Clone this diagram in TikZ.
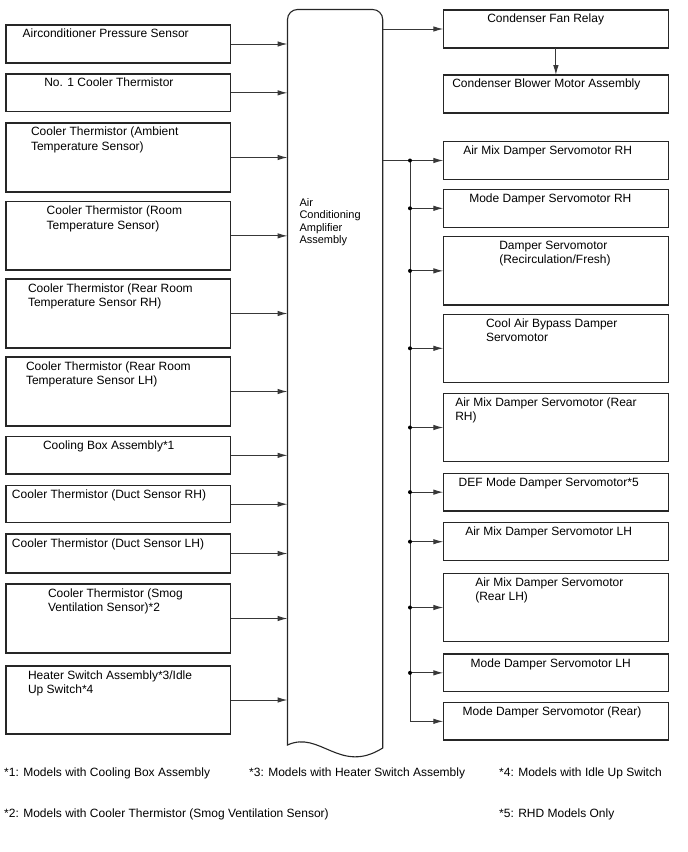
\documentclass[tikz,border=0pt]{standalone}
\usepackage{fontspec}
\setmainfont{Liberation Sans}
\usetikzlibrary{arrows.meta,calc}
\tikzset{
  box/.style={draw=black!85, line width=1.1pt, inner sep=0pt, outer sep=0pt, anchor=north west},
  txt/.style={inner sep=0pt, outer sep=0pt, anchor=north west, align=left, font=\fontsize{12}{14.5}\selectfont},
  conn/.style={draw=black!78, line width=1pt},
  arr/.style={conn, -{Latex[length=10pt,width=5.5pt]}},
  dotc/.style={fill=black, circle, inner sep=0pt, minimum size=4pt},
  note/.style={inner sep=0pt, anchor=north west, font=\fontsize{12}{14.5}\selectfont},
}
\newcommand\mybox[7]{%
  \node[box, minimum width={#4-#2}, minimum height={#5-#3}] (#1) at (#2,#3) {};
  \node[txt] (#1t) at (#6,#3+4.3) {#7};
}
\begin{document}
\begin{tikzpicture}[x=1pt,y=-1pt]
\useasboundingbox (0,0) rectangle (688,852);
% central amplifier
\node[inner sep=0pt, outer sep=0pt, anchor=north west, minimum width=95.2pt, minimum height=737pt] (amp) at (287.5,9.5) {};
\draw[draw=black!85, line width=1.1pt] (287.5,745) -- (287.5,19.5) arc[start angle=180, end angle=270, radius=10] -- (372.7,9.5) arc[start angle=270, end angle=360, radius=10] -- (382.7,748)
  .. controls (340,775) and (320,730) .. (287.5,745) -- cycle;
\node[inner sep=0pt, anchor=north west, align=left, font=\fontsize{11}{12.6}\selectfont] (ampt) at (299.3,198) {Air\\Conditioning\\Amplifier\\Assembly};
% left boxes
\mybox{L1}{6}{25}{230.5}{63}{22.7}{Airconditioner Pressure Sensor}
\mybox{L2}{6}{74}{230.5}{111.7}{44.3}{No. 1 Cooler Thermistor}
\mybox{L3}{6}{123}{230.5}{192}{31}{Cooler Thermistor (Ambient\\Temperature Sensor)}
\mybox{L4}{6}{201.7}{230.5}{270}{46.7}{Cooler Thermistor (Room\\Temperature Sensor)}
\mybox{L5}{6}{279}{230.5}{348}{28}{Cooler Thermistor (Rear Room\\Temperature Sensor RH)}
\mybox{L6}{6}{357}{230.5}{426}{26}{Cooler Thermistor (Rear Room\\Temperature Sensor LH)}
\mybox{L7}{6}{436.7}{230.5}{474}{43}{Cooling Box Assembly*1}
\mybox{L8}{6}{485.7}{230.5}{522.7}{12}{Cooler Thermistor (Duct Sensor RH)}
\mybox{L9}{6}{534}{230.5}{573}{12}{Cooler Thermistor (Duct Sensor LH)}
\mybox{L10}{6}{584}{230.5}{653}{48}{Cooler Thermistor (Smog\\Ventilation Sensor)*2}
\mybox{L11}{6}{666}{230.5}{734}{28}{Heater Switch Assembly*3/Idle\\Up Switch*4}
\foreach \n in {L1,L2,L3,L4,L5,L6,L7,L8,L9,L10,L11}{
  \draw[arr] (\n.east) -- (\n.east -| amp.west);
}
% right boxes
\mybox{F}{443.3}{10}{668.5}{48}{487.3}{Condenser Fan Relay}
\mybox{B}{443.3}{75}{668.5}{113}{452.3}{Condenser Blower Motor Assembly}
\mybox{R1}{443.3}{141.7}{668.5}{179.3}{463.3}{Air Mix Damper Servomotor RH}
\mybox{R2}{443.3}{189.3}{668.5}{227.3}{469.3}{Mode Damper Servomotor RH}
\mybox{R3}{443.3}{236.7}{668.5}{305}{499.3}{Damper Servomotor\\(Recirculation/Fresh)}
\mybox{R4}{443.3}{314.3}{668.5}{382.3}{486}{Cool Air Bypass Damper\\Servomotor}
\mybox{R5}{443.3}{393.3}{668.5}{461.7}{455.3}{Air Mix Damper Servomotor (Rear\\RH)}
\mybox{R6}{443.3}{473.3}{668.5}{511}{458.7}{DEF Mode Damper Servomotor*5}
\mybox{R7}{443.3}{522.7}{668.5}{560.7}{465.3}{Air Mix Damper Servomotor LH}
\mybox{R8}{443.3}{573.3}{668.5}{641.7}{475.3}{Air Mix Damper Servomotor\\(Rear LH)}
\mybox{R9}{443.3}{654}{668.5}{691.7}{470.7}{Mode Damper Servomotor LH}
\mybox{R10}{443.3}{702.7}{668.5}{740}{462.7}{Mode Damper Servomotor (Rear)}
\draw[arr] (F.west -| amp.east) -- (F.west);
\draw[arr] (F.south) -- (B.north);
\coordinate (bus) at (410,0);
\draw[arr] (R1.west -| amp.east) -- (R1.west);
\draw[arr] (R1.west -| bus) |- (R10.west);
\foreach \n in {R2,R3,R4,R5,R6,R7,R8,R9}{
  \draw[arr] (\n.west -| bus) -- (\n.west);
}
\foreach \n in {R1,R2,R3,R4,R5,R6,R7,R8,R9}{
  \node[dotc] at (\n.west -| bus) {};
}
% footnotes
\node[note] (n1) at (4,767.7) {*1: Models with Cooling Box Assembly};
\node[note] (n3) at (249,767.7) {*3: Models with Heater Switch Assembly};
\node[note] (n4) at (499,767.7) {*4: Models with Idle Up Switch};
\node[note] (n2) at (4,808.7) {*2: Models with Cooler Thermistor (Smog Ventilation Sensor)};
\node[note] (n5) at (499,808.7) {*5: RHD Models Only};
\end{tikzpicture}
\end{document}
